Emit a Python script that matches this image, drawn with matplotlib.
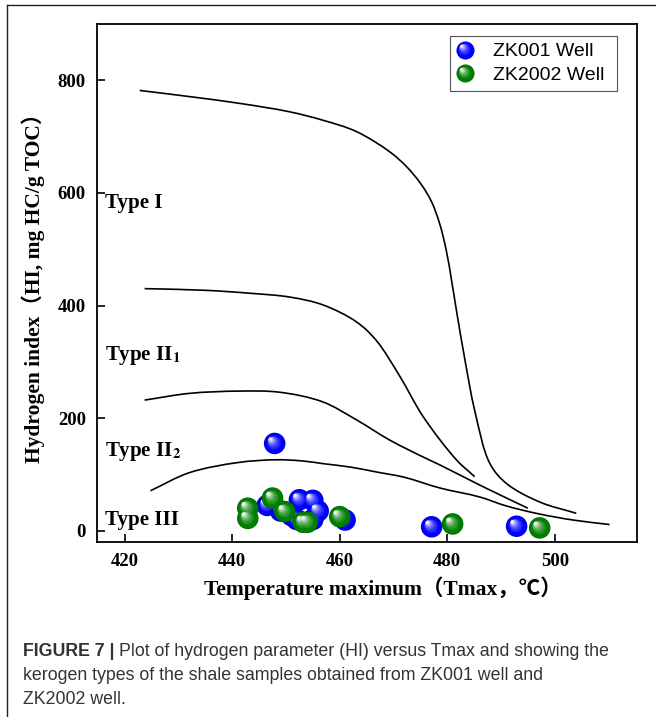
import matplotlib
matplotlib.use("Agg")
import matplotlib.pyplot as plt
from matplotlib.lines import Line2D
from matplotlib.legend_handler import HandlerBase
from matplotlib.transforms import offset_copy
from matplotlib.path import Path
from matplotlib.patches import PathPatch
import numpy as np

# Tmax (°C) and HI (mg HC/g TOC) of the samples
zk001_tmax = [447.9, 446.5, 449.0, 451.0, 452.5, 455.0, 452.0, 455.0, 456.0, 461.0, 477.1, 492.9]
zk001_hi = [155, 45, 35, 27, 55, 54, 20, 20, 35, 19, 7, 8]
zk2002_tmax = [442.9, 442.9, 447.5, 449.8, 453.2, 454.0, 460.0, 481.0, 497.2]
zk2002_hi = [40, 22, 58, 34, 15, 15, 25, 12, 5]

# kerogen type boundary lines
type1_t = [422.8, 432.1, 441.4, 450.7, 456.9, 463.1, 469.3, 472.4, 475.1, 477.1, 478.6, 479.8,
           480.8, 481.7, 483.3, 485.1, 487.9, 491.0, 497.2, 504.0]
type1_hi = [782, 771, 759, 744, 729, 709, 673, 647, 616, 584, 545, 499,
            445, 392, 303, 214, 120, 84, 51, 31]
type2a_t = [423.7, 435, 443, 450.7, 456.9, 463.1, 466.8, 471.2, 475.5, 481.7, 485.1]
type2a_hi = [430, 427, 422, 415, 401, 371, 338, 274, 203, 126, 96]
type2b_t = [423.7, 432.1, 441.4, 448.8, 456.8, 463.1, 469.3, 475.5, 478.6, 486.7, 495.0]
type2b_hi = [232, 244, 248, 246, 229, 197, 161, 131, 117, 78, 40]
type3_t = [424.8, 432, 441, 448, 453, 457, 462, 467, 472, 478.6, 486, 491, 497, 503.4, 510.2]
type3_hi = [71, 103, 121, 126, 124, 119, 113, 104, 95, 76, 60, 44, 30, 19, 11]

x_ticks = [420, 440, 460, 480, 500]
y_ticks = [0, 200, 400, 600, 800]

serif = ["Liberation Serif", "Noto Sans CJK SC"]
plt.rcParams["mathtext.fontset"] = "stix"


def smooth_line(xs, ys, sx=5.4, sy=0.563):
    # centripetal Catmull-Rom through the points as cubic Bezier segments;
    # chord lengths are measured in screen-like units (sx, sy per data unit)
    p = np.column_stack([xs, ys]).astype(float)
    ext = np.vstack([2 * p[0] - p[1], p, 2 * p[-1] - p[-2]])
    scale = np.array([sx, sy])

    def dist(a, b):
        return np.sqrt(np.hypot(*((b - a) * scale))) + 1e-9

    verts = [p[0]]
    codes = [Path.MOVETO]
    for i in range(len(p) - 1):
        p0, p1, p2, p3 = ext[i], ext[i + 1], ext[i + 2], ext[i + 3]
        d1, d2, d3 = dist(p0, p1), dist(p1, p2), dist(p2, p3)
        b1 = (d1 ** 2 * p2 - d2 ** 2 * p0 + (2 * d1 ** 2 + 3 * d1 * d2 + d2 ** 2) * p1) / (3 * d1 * (d1 + d2))
        b2 = (d3 ** 2 * p1 - d2 ** 2 * p3 + (2 * d3 ** 2 + 3 * d3 * d2 + d2 ** 2) * p2) / (3 * d3 * (d3 + d2))
        verts += [b1, b2, p2]
        codes += [Path.CURVE4] * 3
    return Path(verts, codes)


def ball_layers(color, diam):
    # shaded sphere: solid body then a shrinking, lightening spot toward the upper left
    base = np.array(matplotlib.colors.to_rgb(color))
    layers = [(0.0, 0.0, diam, base * 0.82), (0.0, 0.0, diam * 0.92, base)]
    n = 7
    for i in range(1, n + 1):
        t = i / n
        size = diam * (0.7 - 0.55 * t)
        off = diam * 0.2 * t
        col = base + (np.ones(3) - base) * (0.1 + 0.85 * t ** 1.8)
        layers.append((-off, off, size, np.clip(col, 0, 1)))
    return layers


def draw_balls(ax, xs, ys, color, diam=15.5):
    for dx, dy, size, col in ball_layers(color, diam):
        tr = offset_copy(ax.transData, fig=ax.figure, x=dx, y=dy, units="points")
        ax.scatter(xs, ys, s=size ** 2, color=col, edgecolors="none", transform=tr,
                   zorder=3, clip_on=False)


class BallHandler(HandlerBase):
    def create_artists(self, legend, orig_handle, xdescent, ydescent, width, height, fontsize, trans):
        cx = width / 2 - xdescent
        cy = height / 2 - ydescent
        arts = []
        for dx, dy, size, col in ball_layers(orig_handle.get_color(), 13):
            arts.append(Line2D([cx + dx], [cy + dy], marker="o", ms=size, color=col,
                               mec="none", ls="none", transform=trans))
        return arts


fig = plt.figure(figsize=(6.56, 7.17), dpi=100)
ax = fig.add_axes([97 / 656, 1 - 541.7 / 717, 540 / 656, 517.7 / 717])

for t, h in [(type1_t, type1_hi), (type2a_t, type2a_hi), (type2b_t, type2b_hi), (type3_t, type3_hi)]:
    ax.add_patch(PathPatch(smooth_line(t, h), fill=False, edgecolor="black", lw=1.2, zorder=2))

draw_balls(ax, zk001_tmax, zk001_hi, "#0000ff")
draw_balls(ax, zk2002_tmax, zk2002_hi, "#008000")

lab_kw = dict(fontsize=15, fontweight="bold", family=serif, va="center", ha="left")
ax.text(416.3, 582, "Type I", **lab_kw)
ax.text(416.3, 312, r"Type II$_{\mathbf{1}}$", **lab_kw)
ax.text(416.3, 140, r"Type II$_{\mathbf{2}}$", **lab_kw)
ax.text(416.3, 19, "Type III", **lab_kw)

ax.set_xlim(414.85, 515.3)
ax.set_ylim(-19.5, 900)
ax.set_xticks(x_ticks)
ax.set_yticks(y_ticks)
ax.tick_params(direction="in", length=6, width=1.2, pad=8)
for lbl in ax.get_xticklabels() + ax.get_yticklabels():
    lbl.set_fontfamily(serif)
    lbl.set_fontweight("bold")
    lbl.set_fontsize(13.5)
for sp in ax.spines.values():
    sp.set_linewidth(1.3)

ax.set_xlabel("Temperature maximum（Tmax，℃）", family=serif, fontweight="bold",
              fontsize=15.5, va="center")
ax.xaxis.set_label_coords((383 - 97) / 540, (541.7 - 588) / 517.7)
ax.set_ylabel("Hydrogen index（HI, mg HC/g TOC）", family=serif, fontweight="bold",
              fontsize=15.5, labelpad=9)

h1 = Line2D([], [], color="#0000ff")
h2 = Line2D([], [], color="#008000")
leg = ax.legend([h1, h2], ["ZK001 Well ", "ZK2002 Well "], handler_map={Line2D: BallHandler()},
                loc="upper right", bbox_to_anchor=(0.963, 0.977), borderaxespad=0,
                fancybox=False, edgecolor="#555555", framealpha=1,
                prop={"family": "Liberation Sans", "size": 14}, handlelength=0.8,
                handletextpad=1.08, labelspacing=0.3, borderpad=0.35)
leg.get_frame().set_linewidth(0.8)

# outer panel frame (top and left edges)
fig.add_artist(Line2D([7 / 656, 1], [1 - 5 / 717, 1 - 5 / 717], color="#222222", lw=1.0))
fig.add_artist(Line2D([7 / 656, 7 / 656], [0, 1 - 5 / 717], color="#222222", lw=1.0))

# caption
cap_kw = dict(family="Liberation Sans", fontsize=12.8, color="#333333", va="baseline")
t1 = fig.text(23 / 656, 1 - 656 / 717, "FIGURE 7 | ", fontweight="bold", **cap_kw)
fig.canvas.draw()
x1 = t1.get_window_extent().x1 / fig.bbox.width
fig.text(x1, 1 - 656 / 717, "Plot of hydrogen parameter (HI) versus Tmax and showing the", **cap_kw)
fig.text(23 / 656, 1 - 680 / 717, "kerogen types of the shale samples obtained from ZK001 well and", **cap_kw)
fig.text(23 / 656, 1 - 704 / 717, "ZK2002 well.", **cap_kw)

fig.savefig("out.png", dpi=100)
